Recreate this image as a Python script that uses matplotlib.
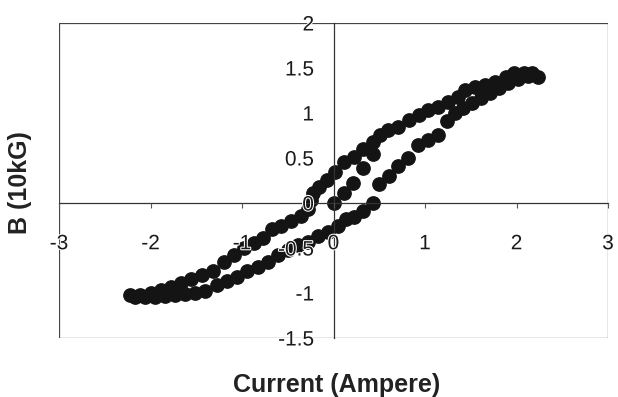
import matplotlib
matplotlib.use("Agg")
import matplotlib.pyplot as plt
import matplotlib.patheffects as pe
from matplotlib.patches import Rectangle

plt.rcParams['font.family'] = ['Liberation Sans', 'DejaVu Sans']

# initial magnetisation curve (from the origin)
virgin_I = [0.00, 0.11, 0.21, 0.32, 0.43]
virgin_B = [0.00, 0.11, 0.22, 0.39, 0.55]

# descending branch, +Imax -> -Imax
down_I = [2.24, 2.17, 2.08, 1.97, 1.88, 1.77, 1.66, 1.55, 1.44, 1.36, 1.25, 1.14,
          1.03, 0.93, 0.82, 0.71, 0.60, 0.51, 0.43, 0.32, 0.22, 0.11, 0.02, -0.07,
          -0.16, -0.22, -0.25, -0.28, -0.36, -0.46, -0.57, -0.67, -0.77, -0.87,
          -0.98, -1.09, -1.20, -1.32, -1.44, -1.56, -1.67, -1.78, -1.89, -2.00,
          -2.11, -2.22]
down_B = [1.40, 1.44, 1.44, 1.44, 1.40, 1.34, 1.31, 1.29, 1.26, 1.18, 1.12, 1.07,
          1.03, 0.98, 0.92, 0.85, 0.81, 0.76, 0.68, 0.60, 0.51, 0.46, 0.34, 0.26,
          0.18, 0.11, 0.03, -0.07, -0.14, -0.20, -0.26, -0.29, -0.39, -0.44,
          -0.50, -0.58, -0.66, -0.75, -0.80, -0.84, -0.89, -0.93, -0.97, -1.00,
          -1.02, -1.02]

# ascending branch, -Imax -> +Imax
up_I = [-2.17, -2.06, -1.95, -1.84, -1.73, -1.62, -1.51, -1.40, -1.27, -1.16,
        -1.05, -0.94, -0.83, -0.72, -0.61, -0.50, -0.39, -0.28, -0.17, -0.06,
        0.05, 0.14, 0.22, 0.32, 0.43, 0.50, 0.61, 0.70, 0.81, 0.92, 1.03, 1.14,
        1.24, 1.33, 1.42, 1.51, 1.61, 1.71, 1.81, 1.91, 2.02, 2.13]
up_B = [-1.04, -1.04, -1.04, -1.03, -1.02, -1.01, -1.00, -0.98, -0.91, -0.87,
        -0.82, -0.76, -0.71, -0.65, -0.58, -0.52, -0.47, -0.43, -0.37, -0.32,
        -0.26, -0.18, -0.15, -0.09, 0.00, 0.21, 0.30, 0.41, 0.50, 0.64, 0.70, 0.76,
        0.91, 1.00, 1.06, 1.11, 1.17, 1.22, 1.28, 1.33, 1.38, 1.41]

x_ticks = [-3, -2, -1, 0, 1, 2, 3]
y_ticks = [-1.5, -1, -0.5, 0, 0.5, 1, 1.5, 2]
x_labels = ["-3", "-2", "-1", "0", "1", "2", "3"]
y_labels = ["-1.5", "-1", "-0.5", "0", "0.5", "1", "1.5", "2"]

W, H = 618, 397
fig = plt.figure(figsize=(W / 100, H / 100), dpi=100)
ax = fig.add_axes([59 / W, (H - 338) / H, (608 - 59) / W, (338 - 23) / H])

dot = dict(marker='o', ls='none', ms=9.6, color='#141414', zorder=2)
ax.plot(virgin_I, virgin_B, **dot)
ax.plot(down_I, down_B, **dot)
ax.plot(up_I, up_B, **dot)

ax.set_xlim(-3, 3)
ax.set_ylim(-1.5, 2)
ax.set_xticks(x_ticks, x_labels)
ax.set_yticks(y_ticks, y_labels)

# axes crossing at the origin, plus an outer frame
for s in ['left', 'bottom']:
    ax.spines[s].set_position('zero')
    ax.spines[s].set_color('#333333')
    ax.spines[s].set_linewidth(0.9)
for s in ['top', 'right']:
    ax.spines[s].set_visible(False)
ax.add_patch(Rectangle((0, 0), 1, 1, transform=ax.transAxes, fill=False,
                       edgecolor='#444444', lw=0.9, zorder=1))

ax.set_axisbelow(False)
ax.tick_params(axis='x', direction='out', length=3.5, width=0.8, colors='#555555',
               labelcolor='#1a1a1a', labelsize=15, pad=19)
ax.tick_params(axis='y', length=0, labelcolor='#1a1a1a', labelsize=15, pad=14)
halo = [pe.withStroke(linewidth=1.5, foreground='white')]
for t in ax.get_xticklabels() + ax.get_yticklabels():
    t.set_path_effects(halo)

fig.text(337 / W, 1 - 385 / H, "Current (Ampere)", ha='center', va='center',
         fontsize=18, fontweight='bold', color='#222222')
fig.text(20 / W, 1 - 183 / H, "B (10kG)", ha='center', va='center', rotation=90,
         fontsize=18, fontweight='bold', color='#222222')

fig.savefig("out.png", dpi=100)
